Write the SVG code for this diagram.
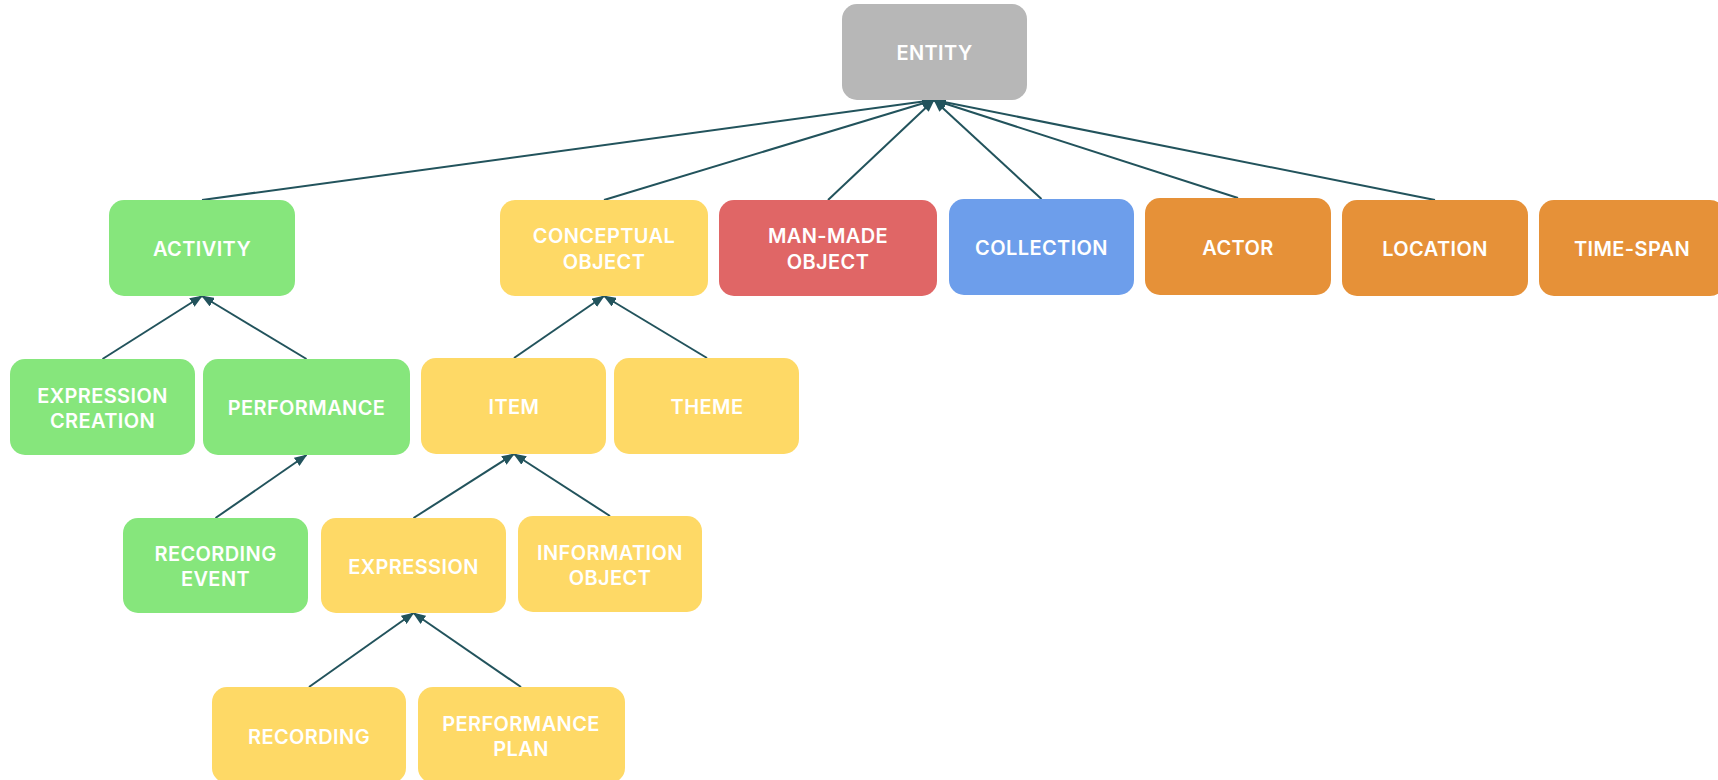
<svg xmlns="http://www.w3.org/2000/svg" width="1718" height="780" viewBox="0 0 1718 780">
  <style>
    .box { stroke: none; }
    .green { fill: #86e67c; }
    .yellow { fill: #fed966; }
    .red { fill: #e06666; }
    .blue { fill: #6d9eeb; }
    .orange { fill: #e69138; }
    .gray { fill: #b7b7b7; }
    .lbl { font-family: Inter, "Liberation Sans", sans-serif; font-size: 20px; font-weight: 600; letter-spacing: 0.4px; fill: #ffffff; text-anchor: middle; }
    .edge { stroke: #22535c; stroke-width: 2; fill: none; marker-end: url(#arrow); }
  </style>
  <defs>
    <marker id="arrow" markerUnits="userSpaceOnUse" markerWidth="13" markerHeight="10" refX="12" refY="5" orient="auto">
      <path d="M0,0 L13,5 L0,10 Z" fill="#22535c"/>
    </marker>
  </defs>
  <rect width="1718" height="780" fill="#ffffff"/>

  <g id="connectors">
    <line class="edge" x1="202" y1="200" x2="934" y2="100"/>
    <line class="edge" x1="604" y1="200" x2="934" y2="100"/>
    <line class="edge" x1="828" y1="200" x2="934" y2="100"/>
    <line class="edge" x1="1041.5" y1="199" x2="934" y2="100"/>
    <line class="edge" x1="1238" y1="198" x2="934" y2="100"/>
    <line class="edge" x1="1435" y1="200" x2="934" y2="100"/>
    <line class="edge" x1="102.5" y1="359" x2="202" y2="296"/>
    <line class="edge" x1="306.5" y1="359" x2="202" y2="296"/>
    <line class="edge" x1="514" y1="358" x2="604" y2="296"/>
    <line class="edge" x1="707" y1="358" x2="604" y2="296"/>
    <line class="edge" x1="215.5" y1="518" x2="306.5" y2="455"/>
    <line class="edge" x1="413.5" y1="518" x2="514" y2="454"/>
    <line class="edge" x1="610" y1="516" x2="514" y2="454"/>
    <line class="edge" x1="309" y1="687" x2="413.5" y2="613"/>
    <line class="edge" x1="521" y1="687" x2="413.5" y2="613"/>
  </g>

  <g id="entity">
    <rect class="box gray" x="842" y="4" width="185" height="96" rx="15"/>
    <text class="lbl" x="934.5" y="60">ENTITY</text>
  </g>
  <g id="activity">
    <rect class="box green" x="109" y="200" width="186" height="96" rx="15"/>
    <text class="lbl" x="202" y="256">ACTIVITY</text>
  </g>
  <g id="conceptual-object">
    <rect class="box yellow" x="500" y="200" width="208" height="96" rx="15"/>
    <text class="lbl" x="604" y="243">CONCEPTUAL</text>
    <text class="lbl" x="604" y="269">OBJECT</text>
  </g>
  <g id="man-made-object">
    <rect class="box red" x="719" y="200" width="218" height="96" rx="15"/>
    <text class="lbl" x="828" y="243">MAN-MADE</text>
    <text class="lbl" x="828" y="269">OBJECT</text>
  </g>
  <g id="collection">
    <rect class="box blue" x="949" y="199" width="185" height="96" rx="15"/>
    <text class="lbl" x="1041.5" y="255">COLLECTION</text>
  </g>
  <g id="actor">
    <rect class="box orange" x="1145" y="198" width="186" height="97" rx="15"/>
    <text class="lbl" x="1238" y="255">ACTOR</text>
  </g>
  <g id="location">
    <rect class="box orange" x="1342" y="200" width="186" height="96" rx="15"/>
    <text class="lbl" x="1435" y="256">LOCATION</text>
  </g>
  <g id="time-span">
    <rect class="box orange" x="1539" y="200" width="186" height="96" rx="15"/>
    <text class="lbl" x="1632" y="256">TIME-SPAN</text>
  </g>
  <g id="expression-creation">
    <rect class="box green" x="10" y="359" width="185" height="96" rx="15"/>
    <text class="lbl" x="102.5" y="403">EXPRESSION</text>
    <text class="lbl" x="102.5" y="428">CREATION</text>
  </g>
  <g id="performance">
    <rect class="box green" x="203" y="359" width="207" height="96" rx="15"/>
    <text class="lbl" x="306.5" y="415">PERFORMANCE</text>
  </g>
  <g id="item">
    <rect class="box yellow" x="421" y="358" width="185" height="96" rx="15"/>
    <text class="lbl" x="514" y="414">ITEM</text>
  </g>
  <g id="theme">
    <rect class="box yellow" x="614" y="358" width="185" height="96" rx="15"/>
    <text class="lbl" x="707" y="414">THEME</text>
  </g>
  <g id="recording-event">
    <rect class="box green" x="123" y="518" width="185" height="95" rx="15"/>
    <text class="lbl" x="215.5" y="561">RECORDING</text>
    <text class="lbl" x="215.5" y="586">EVENT</text>
  </g>
  <g id="expression">
    <rect class="box yellow" x="321" y="518" width="185" height="95" rx="15"/>
    <text class="lbl" x="413.5" y="574">EXPRESSION</text>
  </g>
  <g id="information-object">
    <rect class="box yellow" x="518" y="516" width="184" height="96" rx="15"/>
    <text class="lbl" x="610" y="560">INFORMATION</text>
    <text class="lbl" x="610" y="585">OBJECT</text>
  </g>
  <g id="recording">
    <rect class="box yellow" x="212" y="687" width="194" height="96" rx="15"/>
    <text class="lbl" x="309" y="744">RECORDING</text>
  </g>
  <g id="performance-plan">
    <rect class="box yellow" x="418" y="687" width="207" height="96" rx="15"/>
    <text class="lbl" x="521" y="731">PERFORMANCE</text>
    <text class="lbl" x="521" y="756">PLAN</text>
  </g>
</svg>
